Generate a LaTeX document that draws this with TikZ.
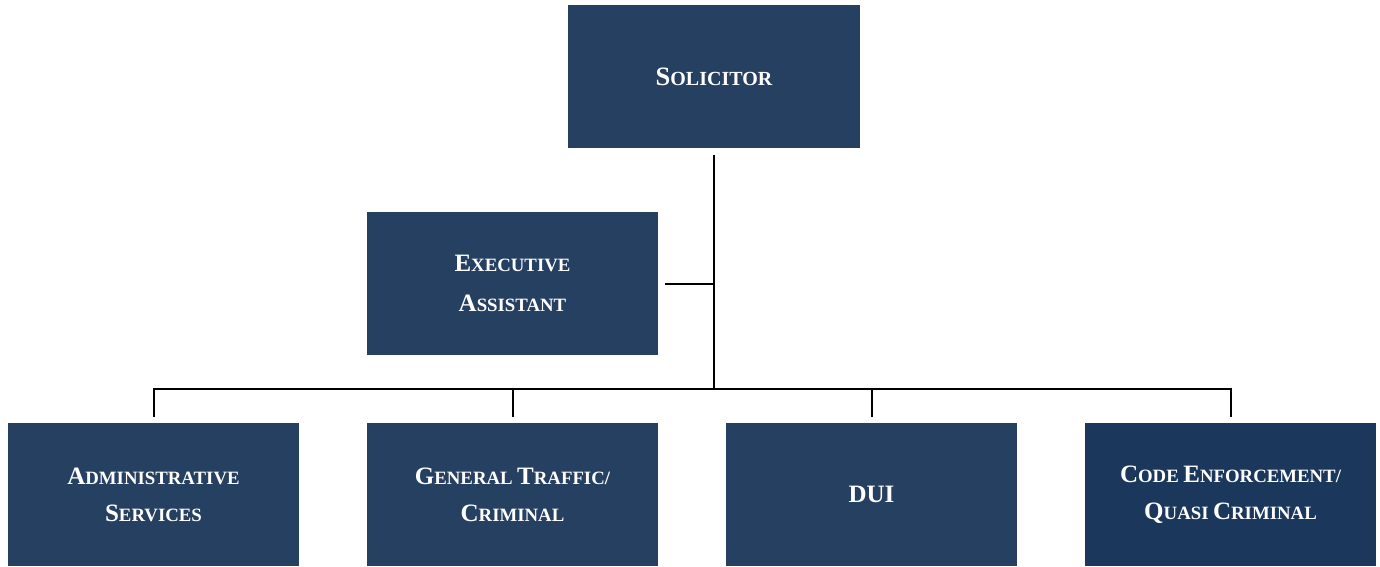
\documentclass[tikz,border=0pt]{standalone}
\usepackage{fontspec}
\setmainfont{Liberation Serif}
\definecolor{boxblue}{HTML}{264061}
\definecolor{boxdark}{HTML}{1B375C}
\newcommand\fsc[2]{{\fontsize{25}{38}\selectfont #1}{\fontsize{18.8}{38}\selectfont #2}}
\newcommand\fscbig[2]{{\fontsize{26.5}{38}\selectfont #1}{\fontsize{20}{38}\selectfont #2}}
\begin{document}
\begin{tikzpicture}[x=1pt,y=-1pt,
  orgbox/.style={rectangle, fill=boxblue, draw=none, minimum width=291pt, minimum height=143pt,
    inner sep=0pt, text=white, align=center, font=\bfseries\fontsize{18}{38}\selectfont},
  conn/.style={line width=2pt, black}]
\useasboundingbox (0,0) rectangle (1380,566);
\node[orgbox, minimum width=292pt] (sol) at (714,76.5) {\fscbig{S}{OLICITOR}};
\node[orgbox, font=\bfseries\fontsize{18}{40}\selectfont] (exec) at (512.5,283.5) {\fsc{E}{XECUTIVE}\\\fsc{A}{SSISTANT}};
\node[orgbox, font=\bfseries\fontsize{18}{37}\selectfont] (admin) at (153.5,494.5) {\fsc{A}{DMINISTRATIVE}\\\fsc{S}{ERVICES}};
\node[orgbox, font=\bfseries\fontsize{18}{37}\selectfont] (gen) at (512.5,494.5) {\fsc{G}{ENERAL} \fsc{T}{RAFFIC/}\\\fsc{C}{RIMINAL}};
\node[orgbox] (dui) at (871.5,494.5) {\fsc{DUI}{}};
\node[orgbox, fill=boxdark, font=\bfseries\fontsize{18}{37}\selectfont] (code) at (1230.5,494.5) {\fsc{C}{ODE} \fsc{E}{NFORCEMENT/}\\\fsc{Q}{UASI} \fsc{C}{RIMINAL}};
\coordinate (bus) at ([yshift=34pt]code.north -| sol.south);
\draw[conn] ([yshift=-7pt]sol.south) -- (bus);
\draw[conn] ([xshift=7pt]exec.east) -- (exec.east -| sol.south);
\draw[conn] ([yshift=6pt]admin.north) |- ([yshift=34pt]code.north) -- ([yshift=6pt]code.north);
\draw[conn] ([yshift=6pt]gen.north) -- ([yshift=34pt]gen.north);
\draw[conn] ([yshift=6pt]dui.north) -- ([yshift=34pt]dui.north);
\end{tikzpicture}
\end{document}
